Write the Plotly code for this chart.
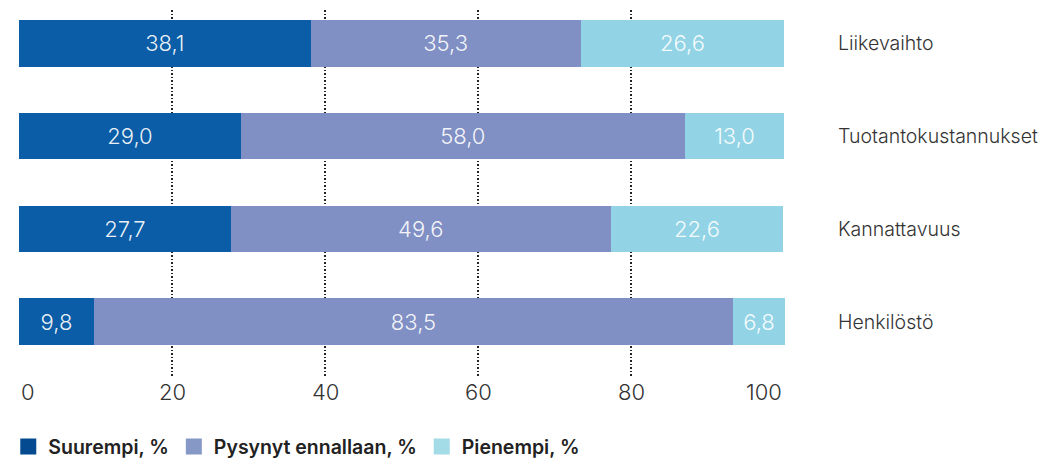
import plotly.graph_objects as go

categories = ["Liikevaihto", "Tuotantokustannukset", "Kannattavuus", "Henkilöstö"]
series_names = ["Suurempi, %", "Pysynyt ennallaan, %", "Pienempi, %"]
suurempi = [38.1, 29.0, 27.7, 9.8]
pysynyt = [35.3, 58.0, 49.6, 83.5]
pienempi = [26.6, 13.0, 22.6, 6.8]
tick_values = [0, 20, 40, 60, 80, 100]
tick_labels = ["0", "20", "40", "60", "80", "100"]

bar_colors = ["#0a5da6", "#8190c4", "#92d4e6"]
legend_colors = ["#034a91", "#8598c6", "#a3dbe6"]
FONT = "Inter"

fig = go.Figure()
for name, vals, col in zip(series_names, [suurempi, pysynyt, pienempi], bar_colors):
    fig.add_trace(go.Bar(
        y=categories, x=vals, orientation="h", name=name, marker=dict(color=col, line=dict(width=0)),
        width=0.5, texttemplate="%{x:.1f}", textposition="inside", insidetextanchor="middle",
        textfont=dict(family=FONT, size=22, color="rgba(255,255,255,0.93)", weight=300),
        showlegend=False, hoverinfo="skip", cliponaxis=False,
    ))
for name, col in zip(series_names, legend_colors):
    fig.add_trace(go.Scatter(
        x=[None], y=[None], mode="markers", name=name,
        marker=dict(symbol="square", size=19, color=col),
    ))

# tick labels as annotations (0 aligned left, 100 aligned right)
for v, t in zip(tick_values, tick_labels):
    anchor = "left" if v == tick_values[0] else ("right" if v == tick_values[-1] else "center")
    fig.add_annotation(x=v, y=0, xref="x", yref="paper", yshift=-14, yanchor="middle",
                       xanchor=anchor, text=t, showarrow=False,
                       font=dict(family=FONT, size=22, color="#333333", weight=300))

fig.update_layout(
    width=1038, height=452,
    margin=dict(l=11, r=261, t=2, b=82, autoexpand=False),
    barmode="stack", bargap=0.5,
    separators=", ",
    plot_bgcolor="white", paper_bgcolor="white",
    uniformtext=dict(minsize=10, mode="show"),
    xaxis=dict(range=[0, 100.1], tickvals=tick_values[1:-1], showticklabels=False,
               showgrid=True, gridcolor="#222222", griddash="1.5px,2px", gridwidth=1.5,
               zeroline=False, showline=False, ticks=""),
    yaxis=dict(categoryorder="array", categoryarray=categories,
               range=[3.607, -0.359], side="right", ticks="", ticklabelstandoff=52,
               showgrid=False, zeroline=False, showline=False, automargin=False,
               tickfont=dict(family=FONT, size=19.5, color="#333333", weight=300)),
    legend=dict(orientation="h", x=-0.014, xanchor="left", y=-0.187, yanchor="middle",
                font=dict(family=FONT, size=19.5, color="#222222", weight=600),
                itemsizing="trace", traceorder="normal", bgcolor="rgba(0,0,0,0)"),
)

fig.write_html("out.html")
